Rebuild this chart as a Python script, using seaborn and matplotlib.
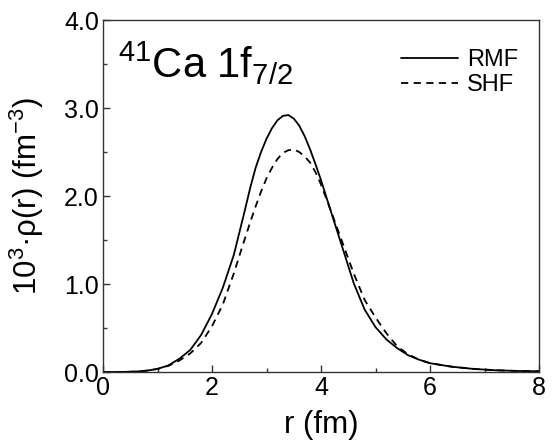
import numpy as np
import pandas as pd
import matplotlib
matplotlib.use("Agg")
import matplotlib.pyplot as plt
import seaborn as sns
from matplotlib.ticker import MultipleLocator, FormatStrFormatter

r = [0.0, 0.2, 0.4, 0.6, 0.8, 1.0, 1.2, 1.4, 1.6, 1.8, 2.0, 2.2, 2.4, 2.6, 2.7, 2.8,
     2.9, 3.0, 3.1, 3.2, 3.3, 3.4, 3.5, 3.6, 3.7, 3.8, 3.9, 4.0, 4.2, 4.4, 4.6, 4.8,
     5.0, 5.2, 5.4, 5.6, 5.8, 6.0, 6.4, 6.8, 7.2, 7.6, 8.0]
rmf = [0.0, 0.0, 0.001, 0.005, 0.015, 0.035, 0.075, 0.15, 0.25, 0.42, 0.66, 0.96, 1.33,
       1.83, 2.09, 2.32, 2.50, 2.65, 2.77, 2.86, 2.91, 2.92, 2.88, 2.80, 2.68, 2.53,
       2.36, 2.18, 1.79, 1.40, 1.01, 0.71, 0.51, 0.37, 0.27, 0.19, 0.14, 0.10, 0.06,
       0.035, 0.02, 0.012, 0.008]
shf = [0.0, 0.0, 0.001, 0.005, 0.015, 0.035, 0.07, 0.13, 0.21, 0.33, 0.52, 0.77, 1.12,
       1.51, 1.70, 1.88, 2.05, 2.20, 2.32, 2.42, 2.49, 2.52, 2.53, 2.50, 2.45, 2.38,
       2.27, 2.13, 1.80, 1.46, 1.12, 0.82, 0.62, 0.44, 0.29, 0.20, 0.14, 0.10, 0.06,
       0.035, 0.02, 0.012, 0.008]

sns.set_theme(style="ticks")
plt.rcParams["font.family"] = ["Liberation Sans", "DejaVu Sans"]
plt.rcParams["mathtext.fontset"] = "custom"
plt.rcParams["mathtext.rm"] = "Liberation Sans"
plt.rcParams["mathtext.it"] = "Liberation Sans"
plt.rcParams["mathtext.bf"] = "Liberation Sans:bold"
plt.rcParams["text.color"] = "black"
plt.rcParams["axes.labelcolor"] = "black"

fig = plt.figure(figsize=(5.59, 4.44), dpi=100)
ax = fig.add_axes([103/559, 72/444, 436/559, 352/444])

df = pd.DataFrame({"r": r, "RMF": rmf, "SHF": shf})
sns.lineplot(data=df, x="r", y="RMF", ax=ax, color="black", lw=1.3, label="RMF")
sns.lineplot(data=df, x="r", y="SHF", ax=ax, color="black", lw=1.3,
             linestyle=(0, (4, 3)), label="SHF")

ax.set_xlim(0, 8)
ax.set_ylim(0, 4)
ax.xaxis.set_major_locator(MultipleLocator(2))
ax.xaxis.set_minor_locator(MultipleLocator(1))
ax.yaxis.set_major_locator(MultipleLocator(1))
ax.yaxis.set_minor_locator(MultipleLocator(0.5))
ax.yaxis.set_major_formatter(FormatStrFormatter("%.1f"))
ax.tick_params(which="both", direction="in", top=False, right=False,
               labelsize=18, color="#333333", width=1.0, labelcolor="black")
ax.tick_params(which="major", length=5, pad=3)
ax.tick_params(which="minor", length=3)
for s in ax.spines.values():
    s.set_color("#333333")
    s.set_linewidth(1.0)

ax.set_xlabel("r (fm)", fontsize=22.5, labelpad=7, color="black")
ax.set_ylabel(r"10$^3$·ρ(r) (fm$^{-3}$)", fontsize=22.5, labelpad=13, color="black")

ax.text(0.035, 0.835, r"$^{41}$Ca 1f$_{7/2}$", transform=ax.transAxes,
        fontsize=30, color="black")

leg = ax.legend(loc="upper right", frameon=False, fontsize=17,
                handlelength=2.4, handletextpad=0.4, labelspacing=0.15,
                borderaxespad=0.0, bbox_to_anchor=(0.974, 0.945),
                labelcolor="black")

fig.savefig("out.png", dpi=100)
